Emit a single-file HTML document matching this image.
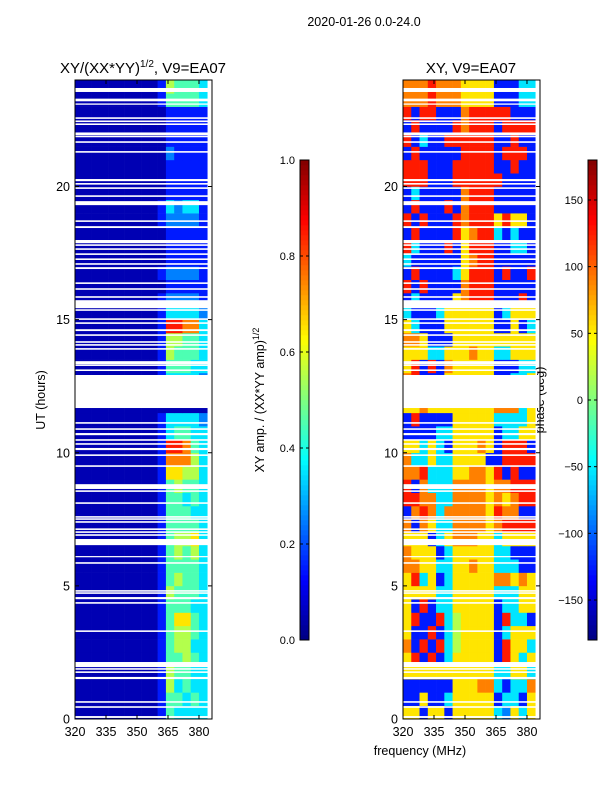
<!DOCTYPE html>
<html><head><meta charset="utf-8"><style>
body{margin:0;background:#fff;}
svg{display:block;font-family:"Liberation Sans",sans-serif;}
</style></head><body>
<svg id="fig" width="600" height="800" viewBox="0 0 600 800" xmlns="http://www.w3.org/2000/svg">
<text x="364" y="26" font-size="12.5" text-anchor="middle">2020-01-26 0.0-24.0</text>
<text x="143" y="73" font-size="15" text-anchor="middle">XY/(XX*YY)<tspan dy="-6" font-size="10">1/2</tspan><tspan dy="6">, V9=EA07</tspan></text>
<text x="471" y="73" font-size="15" text-anchor="middle">XY, V9=EA07</text>
<text transform="translate(45,400) rotate(-90)" font-size="12.5" text-anchor="middle">UT (hours)</text>
<text x="420" y="755" font-size="12.5" text-anchor="middle">frequency (MHz)</text>
<text transform="translate(264,400) rotate(-90)" font-size="12.5" text-anchor="middle">XY amp. / (XX*YY amp)<tspan dy="-5" font-size="9">1/2</tspan></text>
<text transform="translate(544,400) rotate(-90)" font-size="12.5" text-anchor="middle">phase (deg)</text>
<g id="root"></g>
</svg>
<script>
// ---- data ----
const freqStart = 320, freqStep = 4, nCols = 16;
const hourStep = 0.5;
const xTicks = [320, 335, 350, 365, 380];
const yTicks = [0, 5, 10, 15, 20];
const ampTicks = [0.0, 0.2, 0.4, 0.6, 0.8, 1.0];
const phaseTicks = [-150, -100, -50, 0, 50, 100, 150];
// amplitude rows (bottom to top, 0.5 h each), digit d -> d/10+0.05
const ampRows = [
"0000000000143333","0000000000144343","0000000000153433","0000000000154433",
"0000000000144543","0000000000145533","0000000000145543","0000000000146643",
"0000000000144433","0000000000154443","0000000000145443","0000000000144443",
"0000000000145453","0000000000145563","0000000000144443","0000000000144433",
"0000000000144343","0000000000145443","0000000000166553","0000000000177753",
"0000000000188743","0000000000134433","0000000000133332","0000000000000000",
"0000000000000000","0000000000133332","0000000000144433","0000000000154443",
"0000000000155443","0000000000188773","0000000000133332","0000000000122221",
"0000000000011111","0000000000122221","0000000000011111","0000000000011111",
"0000000000011111","0000000000122221","0000000000132331","0000000000011111",
"0000000000011111","0000000000011111","0000000000021111","0000000000011111",
"0000000000011111","0000000000011111","0000000000144443","0000000000154443"];
// phase rows, digit d -> -180+(d+0.5)*36 deg
const phaseRows = [
"6616616666632636","1161136666613316","1111116667731337","6666666666633663",
"6818136666618636","7181835666618663","6118135666613666","6811835666618331",
"6181336666613366","6666336666633366","6836136666677676","7766336676633311",
"7666136666633111","6661367776636666","7176337777678888","1787377777687711",
"8877337777676788","8173337777677888","7783336677681811","7336336666118888",
"6636316667618881","1111336666613366","1811116666633336","6676666666677736",
"6676666666677736","7811166666611336","6818176666611133","6663366676633666",
"7761116666666666","6311166666611613","3111366666613666","1311116788811181",
"8181111788811111","1811113688818118","3111111678811111","8311181688811331",
"1811118678831311","8181118788868661","1811181788811111","1311111788811111",
"8881118888881111","8881118888811811","1811111888818881","8131188888811811",
"1811118788818888","8188111788888111","7778777666611133","7778777666611133"];
// flagged (blank) time ranges in hours
const flagStart = [23.55,23.2,23.07,22.54,22.42,22.31,21.93,21.85,21.64,21.27,20.2,20.07,19.91,19.61,19.3,18.67,18.44,17.87,17.77,17.62,17.43,17.24,17.06,16.9,16.34,16.12,15.82,15.43,15.33,14.99,14.84,14.57,14.39,14.13,14.02,13.87,13.33,13.26,13.07,11.68,11.09,10.86,10.66,10.45,10.3,10.1,9.88,9.47,8.64,8.53,8.08,7.56,7.48,7.37,7.1,6.99,6.88,6.53,6.08,5.83,4.78,4.7,4.5,4.33,3.27,1.95,1.85,1.73,1.5,0.61,0.42,0.04];
const flagEnd   = [23.7,23.3,23.12,22.6,22.48,22.37,22.03,21.91,21.7,21.33,20.28,20.13,19.97,19.67,19.45,18.73,18.51,17.99,17.83,17.68,17.49,17.3,17.12,16.97,16.4,16.18,15.88,15.73,15.39,15.05,14.9,14.64,14.45,14.19,14.08,13.93,13.44,13.32,13.13,12.92,11.15,10.92,10.74,10.51,10.36,10.18,9.94,9.53,8.82,8.59,8.14,7.62,7.54,7.43,7.16,7.05,6.94,6.76,6.12,5.89,4.84,4.76,4.58,4.39,3.33,2.14,1.91,1.79,1.58,0.67,0.48,0.11];

// ---- helpers ----
const NS = "http://www.w3.org/2000/svg";
const root = document.getElementById('root');
function el(tag, attrs, parent){const e=document.createElementNS(NS,tag);for(const k in attrs)e.setAttribute(k,attrs[k]);(parent||root).appendChild(e);return e;}
function clip(v){return Math.max(0,Math.min(1,v));}
function jet(v){const r=clip(1.5-Math.abs(4*v-3)),g=clip(1.5-Math.abs(4*v-2)),b=clip(1.5-Math.abs(4*v-1));
 return 'rgb('+Math.round(r*255)+','+Math.round(g*255)+','+Math.round(b*255)+')';}
const yTop = 80, yBot = 719, hMax = 24;
function yScale(h){return yBot - (h/hMax)*(yBot-yTop);}
function makeX(x0, x1){const f0=320,f1=386.3;return f=>x0+(f-f0)/(f1-f0)*(x1-x0);}

function panel(name, x0, x1, rows, valFn){
  const xs = makeX(x0, x1);
  const g = el('g', {});
  
  
  rows.forEach((row, i) => {
    for (let c = 0; c < nCols; c++) {
      const d = +row[c];
      const f = freqStart + c*freqStep;
      const xa = xs(f), xb = xs(f+freqStep);
      const ya = yScale((i+1)*hourStep), yb = yScale(i*hourStep);
      const r = el('rect', {x:xa.toFixed(2), y:ya.toFixed(2), width:(xb-xa+0.3).toFixed(2), height:(yb-ya+0.3).toFixed(2), fill:jet(valFn(d))}, g);
      
      
    }
  });
  flagStart.forEach((s, k) => {
    const ya = yScale(flagEnd[k]), yb = yScale(flagStart[k]);
    const r = el('rect', {x:x0, y:ya.toFixed(2), width:x1-x0, height:Math.max(1.2,yb-ya).toFixed(2), fill:'#fff'}, g);
    
    
  });
  const fr = el('rect', {x:x0, y:yTop, width:x1-x0, height:yBot-yTop, fill:'none', stroke:'#000', 'stroke-width':1}, g);
  
  
  xTicks.forEach(t => {
    const x = xs(t);
    el('line', {x1:x, x2:x, y1:yBot, y2:yBot-4, stroke:'#000'}, g);
    el('line', {x1:x, x2:x, y1:yTop, y2:yTop+4, stroke:'#000'}, g);
    const tx = el('text', {x:x, y:yBot+17, 'font-size':12.5, 'text-anchor':'middle'}, g);
    tx.textContent = t;
    
    
  });
  yTicks.forEach(t => {
    const y = yScale(t);
    el('line', {x1:x0, x2:x0+4, y1:y, y2:y, stroke:'#000'}, g);
    el('line', {x1:x1, x2:x1-4, y1:y, y2:y, stroke:'#000'}, g);
    const tx = el('text', {x:x0-5, y:y+4.5, 'font-size':12.5, 'text-anchor':'end'}, g);
    tx.textContent = t;
    
    
  });
}
panel('amplitude-heatmap', 75, 212, ampRows, d => d/10 + 0.05);
panel('phase-heatmap', 403, 540, phaseRows, d => (d+0.5)/10);

function colorbar(name, x, vmin, vmax, ticks, fmt){
  const g = el('g', {});
  
  
  const y0 = 160, y1 = 640, n = 96;
  for (let i = 0; i < n; i++) {
    const ya = y1 - (i+1)*(y1-y0)/n;
    el('rect', {x:x, y:ya.toFixed(2), width:9, height:((y1-y0)/n+0.3).toFixed(2), fill:jet((i+0.5)/n)}, g);
  }
  el('rect', {x:x, y:y0, width:9, height:y1-y0, fill:'none', stroke:'#000'}, g);
  ticks.forEach(t => {
    const y = y1 - (t-vmin)/(vmax-vmin)*(y1-y0);
    el('line', {x1:x, x2:x+3, y1:y, y2:y, stroke:'#000'}, g);
    el('line', {x1:x+9, x2:x+6, y1:y, y2:y, stroke:'#000'}, g);
    const tx = el('text', {x:x-5, y:y+4, 'font-size':11, 'text-anchor':'end'}, g);
    tx.textContent = fmt(t);
    
    
  });
}
colorbar('amp-colorbar', 300, 0, 1, ampTicks, t => t.toFixed(1));
colorbar('phase-colorbar', 588, -180, 180, phaseTicks, t => (t<0?'\u2212'+(-t):''+t));
</script>
</body></html>
